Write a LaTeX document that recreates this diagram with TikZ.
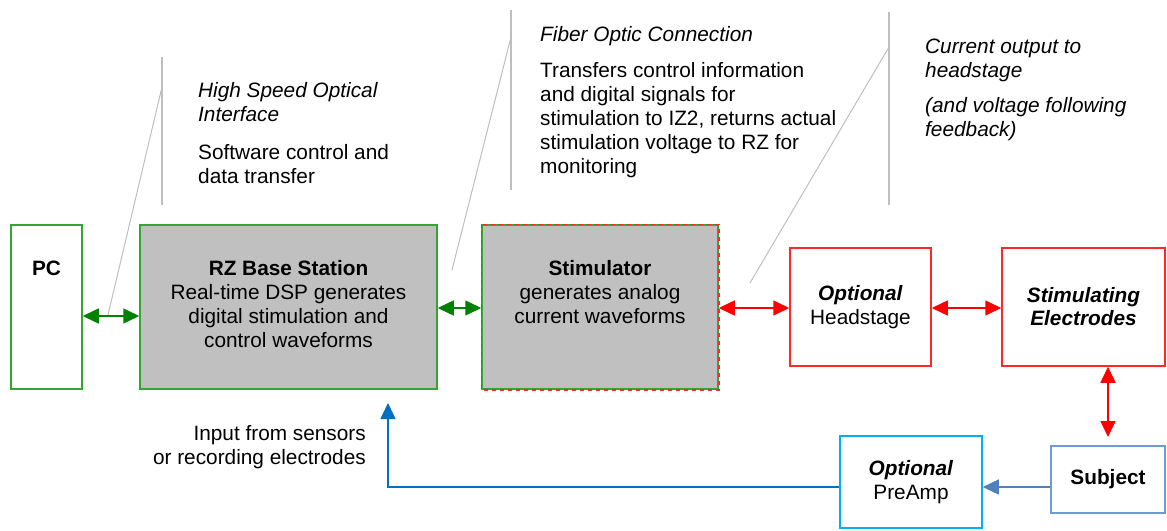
\documentclass[tikz,border=0pt]{standalone}
\usepackage{fontspec}
\setmainfont{Liberation Sans}
\usetikzlibrary{arrows.meta}
\definecolor{boxgreen}{RGB}{50,165,50}
\definecolor{arrowgreen}{RGB}{0,128,0}
\definecolor{boxred}{RGB}{255,40,40}
\definecolor{boxgray}{RGB}{192,192,192}
\definecolor{linegray}{RGB}{190,190,190}
\definecolor{feedblue}{RGB}{0,112,192}
\definecolor{subjblue}{RGB}{110,155,215}
\definecolor{preblue}{RGB}{0,176,240}
\definecolor{steel}{RGB}{79,129,189}

\begin{document}
\begin{tikzpicture}[x=1pt,y=-1pt,inner sep=0pt,
  font=\fontsize{20.8}{24}\selectfont,
  >={Triangle[length=16pt,width=15pt]},
  box/.style={rectangle,draw,line width=1.5pt},
  callout/.style={linegray,line width=2pt},
  pointer/.style={linegray,line width=1pt}]
\useasboundingbox (0,0) rectangle (1167,530);
% blocks
\node (pc)     at (46.5,307)  [box,boxgreen,minimum width=71,minimum height=164] {};
\node (rz)     at (288.5,307) [box,boxgreen,fill=boxgray,minimum width=297,minimum height=164] {};
\node (stim)   at (600,307)   [box,boxgreen,fill=boxgray,minimum width=236,minimum height=164] {};
\draw [boxred,line width=1.5pt,dash pattern=on 4pt off 4pt] (stim.north west) rectangle (stim.south east);
\node (head)   at (860.5,307) [box,boxred,minimum width=141,minimum height=118,align=center,text=black] {\textbf{\textit{Optional}}\\Headstage};
\node (elec)   at (1083.5,307) [box,boxred,minimum width=163,minimum height=118,align=center,text=black] {\textbf{\textit{Stimulating}}\\[-1pt]\textbf{\textit{Electrodes}}};
\node (subj)   at (1108,479.5) [box,subjblue,minimum width=114,minimum height=67,text=black] {\textbf{Subject}};
\node (preamp) at (911,482)   [box,preblue,minimum width=142,minimum height=92,align=center,text=black] {\textbf{\textit{Optional}}\\PreAmp};
% block texts
\node (pctext)   at (46.5,260.5)  [anchor=north] {\textbf{PC}};
\node (rztext)   at (288.5,260.5) [anchor=north,align=center] {\textbf{RZ Base Station}\\Real-time DSP generates\\digital stimulation and\\control waveforms};
\node (stimtext) at (600,260.5)   [anchor=north,align=center] {\textbf{Stimulator}\\generates analog\\current waveforms};
% notes
\node (optical) at (198,82.5) [anchor=north west,align=left] {\textit{High Speed Optical}\\\textit{Interface}\\[14pt]Software control and\\data transfer};
\node (fiber)   at (540,26.5) [anchor=north west,align=left] {\textit{Fiber Optic Connection}\\[12pt]Transfers control information\\and digital signals for\\stimulation to IZ2, returns actual\\stimulation voltage to RZ for\\monitoring};
\node (current) at (925,38.5) [anchor=north west,align=left] {\textit{Current output to}\\\textit{headstage}\\[11pt]\textit{(and voltage following}\\\textit{feedback)}};
\node (input)   at (366,425.5) [anchor=north east,align=right] {Input from sensors\\or recording electrodes};
% callout lines
\draw [callout] (162,57) -- (162,205);
\draw [pointer] (162,87) -- (108,315);
\draw [callout] (511,10) -- (511,190);
\draw [pointer] (511,37) -- (452,270);
\draw [callout] (889,12) -- (889,205);
\draw [pointer] (889,47) -- (750,283);
% connections
\coordinate (subjin) at (1108,437);
\coordinate (rzin)   at (388,403);
\draw [line width=1.5pt,arrowgreen,<->] (pc.east |- 0,316) -- (rz.west |- 0,316);
\draw [line width=1.5pt,arrowgreen,<->] (rz.east |- 0,308) -- (stim.west |- 0,308);
\draw [line width=1.5pt,red,<->] (stim.east |- 0,308) -- (head.west |- 0,308);
\draw [line width=1.5pt,red,<->] (head.east |- 0,308) -- (elec.west |- 0,308);
\draw [line width=1.5pt,red,<->] (elec.south -| subjin) -- (subjin);
\draw [line width=1.5pt,steel,->] (subj.west |- 0,487) -- (preamp.east |- 0,487);
\draw [line width=1.5pt,feedblue,->] (preamp.west |- 0,487) -| (rzin);
\end{tikzpicture}
\end{document}
